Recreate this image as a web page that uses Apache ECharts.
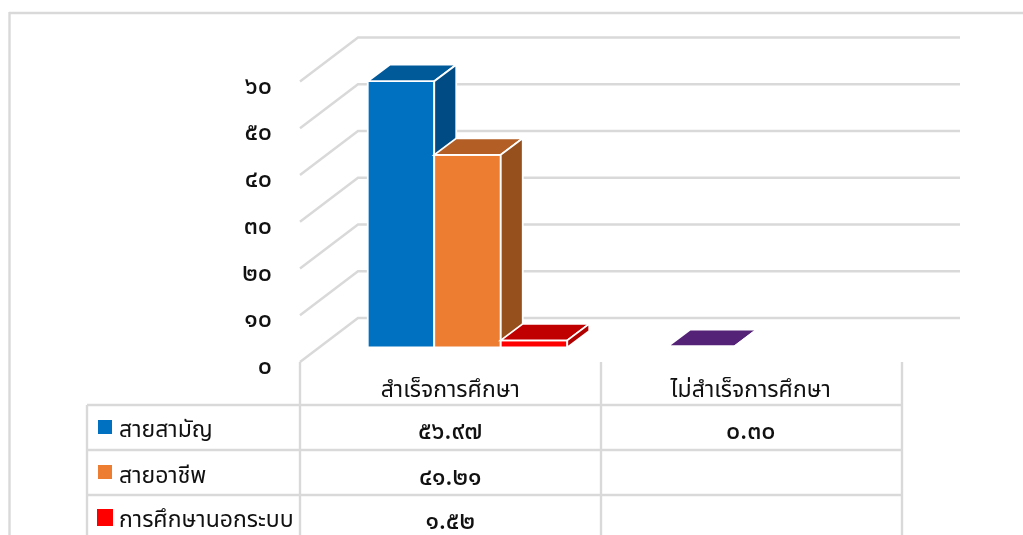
<!DOCTYPE html>
<html><head><meta charset="utf-8">
<style>html,body{margin:0;padding:0;background:#fff}#c{width:1023px;height:535px}</style>
<script src="https://cdn.jsdelivr.net/npm/echarts@6/dist/echarts.min.js"></script>
</head><body><div id="c"></div>
<script>
const categories = ['สำเร็จการศึกษา', 'ไม่สำเร็จการศึกษา'];
const seriesNames = ['สายสามัญ', 'สายอาชีพ', 'การศึกษานอกระบบ'];
const generalValues = [56.97, 0.30];
const vocationalValues = [41.21, null];
const informalValues = [1.52, null];
const yTicks = [0, 10, 20, 30, 40, 50, 60];

const FONT = '"Noto Sans", "Noto Sans Thai", "Liberation Sans", sans-serif';
const GRID = '#D9D9D9';
const thai = s => String(s).replace(/[0-9]/g, d => '๐๑๒๓๔๕๖๗๘๙'[+d]);

const palettes = [
  { front: '#0070C0', top: '#005A9A', side: '#004B83' },
  { front: '#ED7D31', top: '#B35E24', side: '#95501D' },
  { front: '#FF0000', top: '#C00000', side: '#B00000' }
];
const purple = { front: '#7030A0', top: '#542378', side: '#45206A' };

const DEPTH_X = 58, DEPTH_Y = 44;
const BAR_DX = 22, BAR_DY = 16.5, BAR_LIFT = 14.5, BAR_W = 66.5, GROUP_OFF = 82.5;
const ROW_Y = [428, 474, 518];

function poly(points, fill, stroke) {
  return { type: 'polygon', shape: { points }, style: { fill, stroke: stroke || '#fff', lineWidth: 1.8 } };
}

function wallItem(params, api) {
  const cs = params.coordSys;
  const y = api.coord([0, api.value(1)])[1];
  const x0 = cs.x, x1 = x0 + DEPTH_X, x2 = cs.x + cs.width + DEPTH_X + 1;
  return {
    type: 'polyline',
    shape: { points: [[x0, y], [x1, y - DEPTH_Y], [x2, y - DEPTH_Y]] },
    style: { stroke: GRID, lineWidth: 2.4, fill: null }
  };
}

function barItem(si) {
  return function (params, api) {
    const cat = api.value(0), v = api.value(1);
    if (v == null || isNaN(v)) return null;
    const cx = api.coord([cat, 0])[0];
    const yBase = api.coord([cat, 0])[1] - BAR_LIFT;
    const yTop = api.coord([cat, v])[1] - BAR_LIFT;
    const x0 = cx - GROUP_OFF + si * BAR_W, x1 = x0 + BAR_W;
    const p = cat === 1 ? purple : palettes[si];
    const dx = BAR_DX, dy = BAR_DY;
    return {
      type: 'group',
      children: [
        poly([[x0, yBase], [x1, yBase], [x1, yTop], [x0, yTop]], p.front),
        poly([[x0, yTop], [x1, yTop], [x1 + dx, yTop - dy], [x0 + dx, yTop - dy]], p.top),
        poly([[x1, yBase], [x1 + dx, yBase - dy], [x1 + dx, yTop - dy], [x1, yTop]], p.side),
        { type: 'text', x: cx, y: ROW_Y[si] + 4,
          style: { text: thai(v.toFixed(2)), fill: '#111', font: '500 25px ' + FONT, align: 'center', verticalAlign: 'middle' } }
      ]
    };
  };
}

const line = (x1, y1, x2, y2) => ({ type: 'line', shape: { x1, y1, x2, y2 }, style: { stroke: GRID, lineWidth: 2.4 }, silent: true });
const tableX = [300, 601, 902];
const tableRows = [405, 450, 495];
const keyBoxes = [[98, 420, 14, 14], [98, 465, 14, 14], [97, 509, 16, 17]];

const graphics = [
  line(9, 13, 1023, 13),
  line(9.5, 12, 9.5, 535),
  line(87, 405, 87, 535),
  ...tableX.map(x => line(x, 362, x, 535)),
  ...tableRows.map(y => line(87, y, 902, y)),
  ...seriesNames.flatMap((n, i) => [
    { type: 'rect', shape: { x: keyBoxes[i][0], y: keyBoxes[i][1], width: keyBoxes[i][2], height: keyBoxes[i][3] }, style: { fill: palettes[i].front } },
    { type: 'text', x: 119, y: ROW_Y[i] + 2, style: { text: n, fill: '#111', font: '23px ' + FONT, align: 'left', verticalAlign: 'middle' } }
  ])
];

const chart = echarts.init(document.getElementById('c'), null, { renderer: 'canvas' });
chart.setOption({
  animation: false,
  backgroundColor: '#fff',
  grid: { left: 300, right: 122, top: 81.5, bottom: 173, containLabel: false },
  xAxis: {
    type: 'category', data: categories,
    axisLine: { show: false }, axisTick: { show: false }, splitLine: { show: false },
    axisLabel: { margin: 17, color: '#111', fontFamily: FONT, fontSize: 23, interval: 0 }
  },
  yAxis: {
    type: 'value', min: 0, max: 60, interval: 10,
    axisLine: { show: false }, axisTick: { show: false }, splitLine: { show: false },
    axisLabel: { margin: 28, color: '#111', fontFamily: FONT, fontSize: 25, fontWeight: 500,
      verticalAlign: 'top', lineHeight: 10, formatter: v => thai(v) }
  },
  graphic: graphics,
  series: [
    { type: 'custom', name: 'wall', silent: true, renderItem: wallItem, data: yTicks.map(t => [0, t]), encode: { x: 0, y: 1 } },
    { type: 'custom', name: seriesNames[0], renderItem: barItem(0), data: generalValues.map((v, i) => [i, v]), encode: { x: 0, y: 1 } },
    { type: 'custom', name: seriesNames[1], renderItem: barItem(1), data: vocationalValues.map((v, i) => [i, v]), encode: { x: 0, y: 1 } },
    { type: 'custom', name: seriesNames[2], renderItem: barItem(2), data: informalValues.map((v, i) => [i, v]), encode: { x: 0, y: 1 } }
  ]
});
</script></body></html>
